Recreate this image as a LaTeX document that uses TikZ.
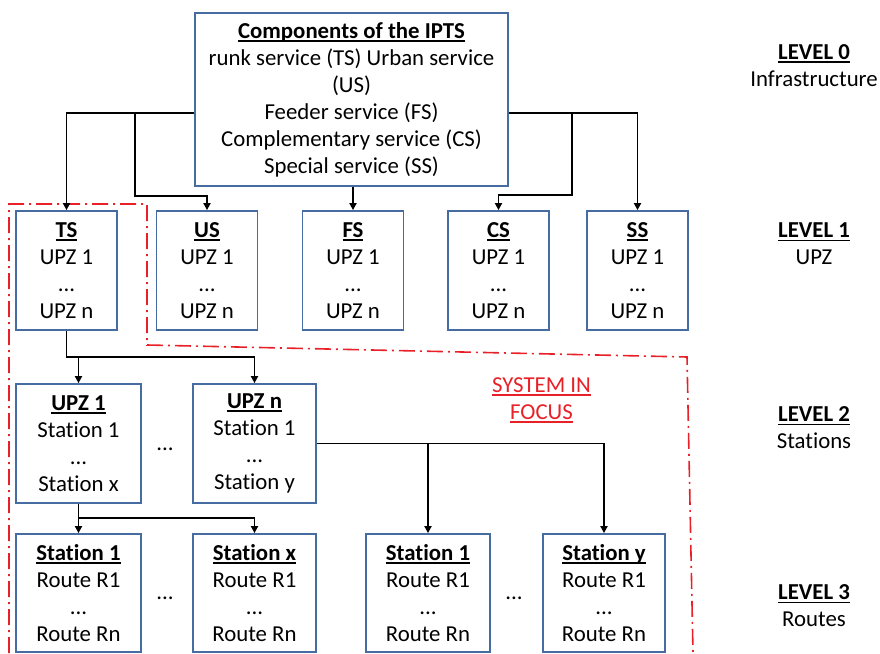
\documentclass[tikz,border=0pt]{standalone}
\usepackage{fontspec}
\setmainfont{Carlito}[Ligatures=NoCommon]
\usetikzlibrary{arrows.meta,calc}
\definecolor{boxblue}{RGB}{70,108,162}
\definecolor{focusred}{RGB}{232,32,40}
\newsavebox\ulxbox
\newcommand{\ulx}[1]{\sbox\ulxbox{#1}\rlap{\rule[-0.15em]{\wd\ulxbox}{0.07em}}\usebox\ulxbox}
\begin{document}
\begin{tikzpicture}[x=1pt,y=-1pt,
  font=\fontsize{22.8}{27}\selectfont,
  box/.style={draw=boxblue, line width=1.8pt, fill=white, align=center, inner sep=0pt},
  lvlone/.style={box, minimum width=101pt, minimum height=119pt},
  lvltwo/.style={box, minimum width=125pt, minimum height=119pt},
  arr/.style={line width=1.8pt, -{Triangle[length=7pt,width=7pt]}},
  focus/.style={draw=focusred, line width=1.6pt, dash pattern=on 16pt off 5pt on 2pt off 5pt},
  lbl/.style={align=center, inner sep=0pt}]
\useasboundingbox (0,0) rectangle (880,653);

% system in focus outline
\draw[focus] (9,653) -- (9,204) -- (147,204) -- (147,345) -- (687,357) -- (693,653);

% level 0
\node[box, minimum width=313pt, minimum height=173pt] (top) at (351.5,99.5)
  {\textbf{\ulx{Components of the IPTS}}\\
   runk service (TS) Urban service\\
   (US)\\
   Feeder service (FS)\\
   Complementary service (CS)\\
   Special service (SS)};

% level 1
\node[lvlone] (ts) at (66.5,270.5) {\textbf{\ulx{TS}}\\UPZ 1\\...\\UPZ n};
\node[lvlone] (us) at (207,270.5) {\textbf{\ulx{US}}\\UPZ 1\\...\\UPZ n};
\node[lvlone] (fs) at (353,270.5) {\textbf{\ulx{FS}}\\UPZ 1\\...\\UPZ n};
\node[lvlone] (cs) at (498.5,270.5) {\textbf{\ulx{CS}}\\UPZ 1\\...\\UPZ n};
\node[lvlone] (ss) at (637.5,270.5) {\textbf{\ulx{SS}}\\UPZ 1\\...\\UPZ n};

% level 2
\node[lvltwo] (upza) at (78.5,443.5) {\textbf{\ulx{UPZ 1}}\\Station 1\\...\\Station x};
\node[lvltwo, minimum width=123pt] (upzn) at (254.5,443.5) {\textbf{\ulx{UPZ n}}\\Station 1\\...\\Station y};
\node[lbl] (dotsa) at (165,449) {...};

% level 3
\node[lvltwo, minimum height=118pt] (sta) at (78.5,593) {\textbf{\ulx{Station 1}}\\Route R1\\...\\Route Rn};
\node[lvltwo, minimum width=123pt, minimum height=118pt] (stx) at (254.5,593) {\textbf{\ulx{Station x}}\\Route R1\\...\\Route Rn};
\node[lvltwo, minimum width=124pt, minimum height=118pt] (stb) at (428,593) {\textbf{\ulx{Station 1}}\\Route R1\\...\\Route Rn};
\node[lvltwo, minimum width=122pt, minimum height=118pt] (sty) at (604,593) {\textbf{\ulx{Station y}}\\Route R1\\...\\Route Rn};
\node[lbl] (dotsb) at (165,598) {...};
\node[lbl] (dotsc) at (514,598) {...};

% system in focus label
\node[lbl, text=focusred] (sif) at (541.5,400) {\ulx{SYSTEM IN}\\\ulx{FOCUS}};

% level labels
\node[lbl] (l0) at (814,65.5) {\textbf{\ulx{LEVEL 0}}\\Infrastructure};
\node[lbl] (l1) at (814,244) {\textbf{\ulx{LEVEL 1}}\\UPZ};
\node[lbl] (l2) at (814,428) {\textbf{\ulx{LEVEL 2}}\\Stations};
\node[lbl] (l3) at (814,606) {\textbf{\ulx{LEVEL 3}}\\Routes};

% connectors level 0 -> 1
\coordinate (jl) at (135,113);
\coordinate (jr) at (572,113);
\draw[arr] (top.west |- 0,113) -| (ts.north);
\draw[arr] (jl) |- (us.north |- 0,196) -- (us.north);
\draw[arr] (fs.north |- top.south) -- (fs.north);
\draw[arr] (top.east |- 0,113) -| (ss.north);
\draw[arr] (jr) |- (cs.north |- 0,195) -- (cs.north);

% level 1 -> 2
\draw[arr] (ts.south) |- (upzn.north |- 0,357) -- (upzn.north);
\draw[arr] (upza.north |- 0,357) -- (upza.north);

% level 2 -> 3
\draw[arr] (upza.south) |- (stx.north |- 0,518) -- (stx.north);
\draw[arr] (upza.south) -- (sta.north);
\draw[arr] (upzn.east) -| (sty.north);
\draw[arr] (stb.north |- upzn.east) -- (stb.north);
\end{tikzpicture}
\end{document}
